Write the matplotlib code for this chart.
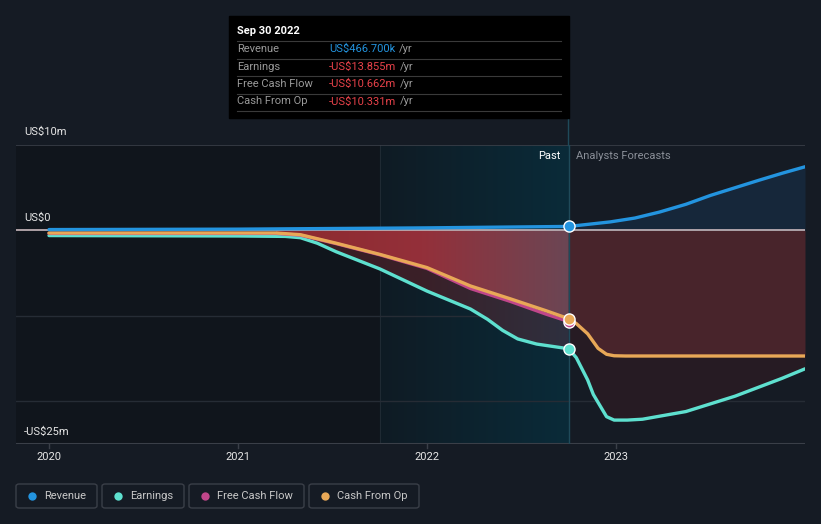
import numpy as np
import matplotlib.pyplot as plt
from matplotlib.patches import FancyBboxPatch, Rectangle
from matplotlib.colors import LinearSegmentedColormap

plt.rcParams['font.family'] = ['Roboto', 'DejaVu Sans']

# values in US$ millions (x in fractional years)
rev_x = [2020.0, 2021.0, 2022.0, 2022.75]
rev_y = [0.1, 0.15, 0.3, 0.467]
rev_fx = [2022.75, 2022.97, 2023.1, 2023.23, 2023.37, 2023.5, 2023.63, 2023.76, 2023.88, 2024.0]
rev_fy = [0.467, 1.0, 1.45, 2.15, 3.06, 4.1, 5.0, 5.9, 6.7, 7.45]

earn_x = [2020.0, 2021.0, 2021.25, 2021.33, 2021.42, 2021.52, 2021.75, 2022.0,
          2022.23, 2022.32, 2022.4, 2022.48, 2022.58, 2022.75]
earn_y = [-0.6, -0.65, -0.7, -0.85, -1.5, -2.5, -4.5, -7.1,
          -9.2, -10.4, -11.7, -12.7, -13.3, -13.855]
earn_fx = [2022.75, 2022.79, 2022.85, 2022.88, 2022.95, 2022.99, 2023.06, 2023.14,
           2023.37, 2023.63, 2023.88, 2024.0]
earn_fy = [-13.855, -14.9, -17.5, -19.2, -21.8, -22.2, -22.2, -22.1,
           -21.2, -19.4, -17.3, -16.2]

fcf_x = [2020.0, 2021.2, 2021.33, 2021.52, 2021.75, 2022.0, 2022.23, 2022.44, 2022.63, 2022.75]
fcf_y = [-0.35, -0.35, -0.55, -1.55, -2.85, -4.45, -6.8, -8.3, -9.8, -10.662]

cfo_x = [2020.0, 2021.2, 2021.33, 2021.52, 2021.75, 2022.0, 2022.23, 2022.44, 2022.63, 2022.75]
cfo_y = [-0.3, -0.3, -0.5, -1.5, -2.8, -4.35, -6.5, -8.0, -9.4, -10.331]
cfo_fx = [2022.75, 2022.79, 2022.85, 2022.905, 2022.95, 2022.99, 2023.05, 2024.0]
cfo_fy = [-10.331, -10.9, -12.1, -13.8, -14.5, -14.67, -14.7, -14.7]

years = [2020, 2021, 2022, 2023]
past_start, now = 2021.75, 2022.75

C_REV = '#2394df'
C_EARN = '#5ee0cf'
C_FCF = '#c0468a'
C_CFO = '#e8a857'
BG = '#151b24'

W, H = 821, 524
fig = plt.figure(figsize=(W / 100, H / 100), dpi=100, facecolor=BG)


def fx(x):
    return x / W


def fy(y):
    return 1 - y / H


ax = fig.add_axes([fx(16), fy(444), fx(805) - fx(16), fy(145) - fy(444)])
ax.set_facecolor(BG)
x0 = 2020 - 33 / 189
for s in ax.spines.values():
    s.set_visible(False)
ax.set_xticks([])
ax.set_yticks([])

# background bands
ax.add_patch(Rectangle((x0, -25), past_start - x0, 35, color='#10151c', zorder=0))
teal = LinearSegmentedColormap.from_list('t', ['#0f1b24', '#0a2b39'])
ax.imshow(np.linspace(0, 1, 256).reshape(1, -1), cmap=teal, aspect='auto',
          extent=[past_start, now, -25, 10], zorder=0.5)
ax.axvline(past_start, color='#1f2a33', lw=0.8, zorder=0.6)

# gridlines
for g in [-10, -20]:
    ax.axhline(g, color='#262c35', lw=1, zorder=1)
ax.axhline(10, color='#3a3f48', lw=1.2, zorder=1)
ax.axhline(-25, color='#3a3f48', lw=1.5, zorder=1)

# fills, past
red = LinearSegmentedColormap.from_list('r', ['#8c2a2d', '#94303a', '#6b4654'])
poly = ax.fill_between(cfo_x, cfo_y, 0, color='none', zorder=2)
img = ax.imshow(np.linspace(0, 1, 256).reshape(1, -1), cmap=red, aspect='auto',
                extent=[2021.2, now, -25, 10], zorder=2)
img.set_clip_path(poly.get_paths()[0], transform=ax.transData)
mid = LinearSegmentedColormap.from_list('m', ['#3a1c22', '#3a2028', '#2e303f'])
cfo_on_earn = np.interp(earn_x, cfo_x, cfo_y)
poly2 = ax.fill_between(earn_x, earn_y, cfo_on_earn, color='none', zorder=2)
img2 = ax.imshow(np.linspace(0, 1, 256).reshape(1, -1), cmap=mid, aspect='auto',
                 extent=[2021.2, now, -25, 10], zorder=2)
img2.set_clip_path(poly2.get_paths()[0], transform=ax.transData)

# fills, forecast
cfo_on_earnf = np.interp(earn_fx, cfo_fx, cfo_fy)
ax.fill_between(cfo_fx, cfo_fy, 0, color='#48242b', lw=0, zorder=2)
ax.fill_between(earn_fx, earn_fy, cfo_on_earnf, color='#261b23', lw=0, zorder=2)
ax.fill_between(rev_fx, rev_fy, 0, color='#16273a', lw=0, zorder=2)

ax.axhline(0, color='#c8b8bc', lw=1.2, zorder=3)
ax.axvline(now, color='#1f4a5a', lw=1, zorder=3)

lw = 2.4
kw = dict(lw=lw, zorder=4, solid_joinstyle='round', solid_capstyle='round')
ax.plot(earn_x + earn_fx[1:], earn_y + earn_fy[1:], color=C_EARN, **kw)
ax.plot(fcf_x, fcf_y, color=C_FCF, **kw)
ax.plot(cfo_x + cfo_fx[1:], cfo_y + cfo_fy[1:], color=C_CFO, **kw)
ax.plot(rev_x + rev_fx[1:], rev_y + rev_fy[1:], color=C_REV, **kw)

for v, c in [(fcf_y[-1], C_FCF), (cfo_y[-1], C_CFO), (earn_y[-1], C_EARN), (rev_y[-1], C_REV)]:
    ax.plot([now], [v], 'o', ms=8, color=c, mec='white', mew=1, zorder=5)

ax.set_xlim(x0, 2024.0)
ax.set_ylim(-25, 10)

# vertical marker line above the plot
fig.add_artist(plt.Line2D([fx(568), fx(568)], [fy(145), fy(118)], color='#1f4a5a', lw=1))

# axis texts
txt = '#e6e6e6'
fig.text(fx(24), fy(132), 'US$10m', color=txt, fontsize=8, va='center')
fig.text(fx(24), fy(218), 'US$0', color=txt, fontsize=8, va='center')
fig.text(fx(24), fy(432), '-US$25m', color=txt, fontsize=8, va='center')
for yr in years:
    xp = 49 + (yr - 2020) * 189
    fig.text(fx(xp), fy(457), str(yr), color=txt, fontsize=8, ha='center', va='center')
    fig.add_artist(plt.Line2D([fx(xp), fx(xp)], [fy(444), fy(448)], color='#3a3f48', lw=1))
fig.text(fx(560), fy(156), 'Past', color='white', fontsize=8, ha='right', va='center')
fig.text(fx(576), fy(156), 'Analysts Forecasts', color='#8a8f98', fontsize=8, va='center')

# tooltip
fig.add_artist(Rectangle((fx(229), fy(118)), fx(569) - fx(229), fy(16) - fy(118),
                         color='black', transform=fig.transFigure, zorder=10))
fig.text(fx(237), fy(31), 'Sep 30 2022', color='white', fontsize=8, weight='bold',
         va='center', zorder=11)
rows = [('Revenue', 'US$466.700k', '#2394df'),
        ('Earnings', '-US$13.855m', '#e8424a'),
        ('Free Cash Flow', '-US$10.662m', '#e8424a'),
        ('Cash From Op', '-US$10.331m', '#e8424a')]
renderer = fig.canvas.get_renderer()
for i, (lab, val, c) in enumerate(rows):
    yy = 49 + i * 17.5
    fig.text(fx(237), fy(yy), lab, color='#9a9a9a', fontsize=8, va='center', zorder=11)
    t = fig.text(fx(329), fy(yy), val, color=c, fontsize=8, va='center', zorder=11)
    bb = t.get_window_extent(renderer)
    fig.text(fx(bb.x1 + 4), fy(yy), '/yr', color='#9a9a9a', fontsize=8,
             va='center', zorder=11)
for i in range(5):
    yl = 41 + i * 17.5
    fig.add_artist(plt.Line2D([fx(237), fx(561)], [fy(yl), fy(yl)], color='#3a3a3a',
                              lw=0.8, zorder=11))

# legend
items = [('Revenue', C_REV, 16, 97), ('Earnings', C_EARN, 102, 184),
         ('Free Cash Flow', C_FCF, 189, 304), ('Cash From Op', C_CFO, 309, 419)]
for lab, c, a, b in items:
    fig.add_artist(FancyBboxPatch((fx(a), fy(508)), fx(b) - fx(a), fy(484) - fy(508),
                                  boxstyle='round,pad=0,rounding_size=0.004',
                                  fc='none', ec='#3a3f48', lw=1, transform=fig.transFigure))
    fig.add_artist(plt.Line2D([fx(a + 16)], [fy(496)], marker='o', ms=6, color=c, mew=0))
    fig.text(fx(a + 28), fy(496), lab, color='#c8c8c8', fontsize=8, va='center')

fig.savefig('out.png', dpi=100, facecolor=BG)
